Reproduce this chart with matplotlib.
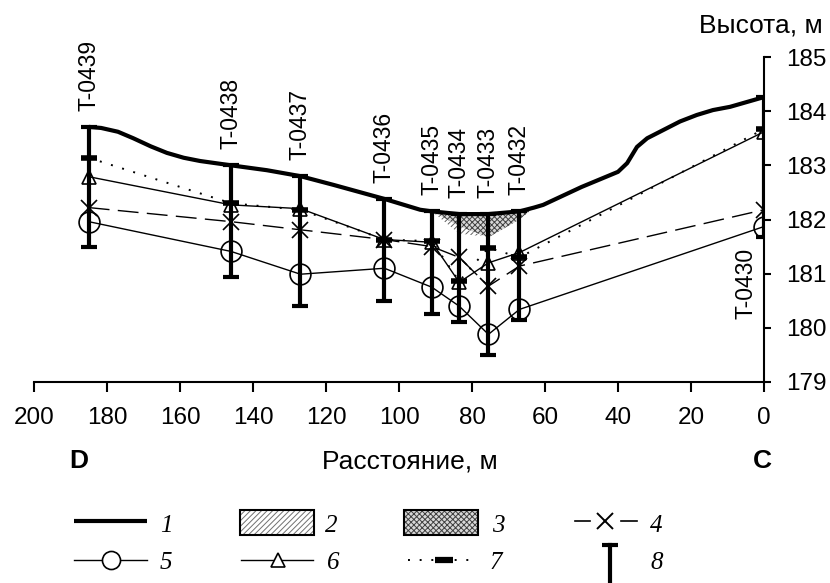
import matplotlib
matplotlib.use('Agg')
import matplotlib.pyplot as plt
from matplotlib.patches import Rectangle
from matplotlib.lines import Line2D

plt.rcParams['font.family'] = ['Liberation Sans', 'DejaVu Sans']
plt.rcParams['hatch.linewidth'] = 0.7

# ---------------- data ----------------
# ground surface profile (line 1)
surf_dist = [185, 181.6, 177, 172.8, 168, 163.6, 159, 154.5, 146, 136.2, 127, 118, 104, 94.2, 91,
             83.5, 75.5, 67, 63, 60.5, 50, 40, 37.5, 34.8, 32, 23, 18.4, 14, 9.3, 0]
surf_elev = [183.71, 183.69, 183.62, 183.50, 183.35, 183.23, 183.14, 183.08, 183.00, 182.91, 182.80,
             182.64, 182.38, 182.18, 182.15, 182.10, 182.10, 182.15, 182.22, 182.27, 182.60, 182.88,
             183.04, 183.34, 183.50, 183.81, 183.93, 184.02, 184.08, 184.26]

# boreholes
well_names = ['T-0439', 'T-0438', 'T-0437', 'T-0436', 'T-0435', 'T-0434', 'T-0433', 'T-0432', 'T-0430']
well_dist = [185, 146, 127, 104, 91, 83.5, 75.5, 67, 0]
well_top = [183.71, 183.00, 182.80, 182.38, 182.15, 182.10, 182.10, 182.15, 184.26]
well_bottom = [181.50, 180.93, 180.40, 180.49, 180.25, 180.10, 179.50, 180.15, 181.68]

# series 4..7
s4 = [182.22, 181.96, 181.81, 181.63, 181.50, 181.30, 180.77, 181.14, 182.18]
s5 = [181.96, 181.41, 180.99, 181.10, 180.75, 180.40, 179.88, 180.34, 181.87]
s6 = [182.79, 182.27, 182.20, 181.63, 181.58, 180.84, 181.20, 181.39, 183.62]
s7 = [183.14, 182.30, 182.18, 181.63, 181.60, 180.86, 181.48, 181.30, 183.67]

# zones 2 and 3
z3_dist = [91, 83.5, 75.5, 67, 63]
z3_top = [182.15, 182.10, 182.10, 182.15, 182.22]
z3_bottom = [182.15, 181.87, 181.67, 182.00, 182.22]
z2_dist = [91, 83.5, 77]
z2_top = [182.15, 181.87, 181.69]
z2_bottom = [182.15, 181.74, 181.69]

x_ticks = [200, 180, 160, 140, 120, 100, 80, 60, 40, 20, 0]
y_ticks = [179, 180, 181, 182, 183, 184, 185]

# ---------------- figure ----------------
W, H = 830, 583
fig = plt.figure(figsize=(W / 100, H / 100), dpi=100)
ax = fig.add_axes([34 / W, 1 - 382 / H, (764 - 34) / W, (382 - 57) / H])
ax.set_xlim(200, 0)
ax.set_ylim(179, 185)

ax.fill_between(z3_dist, z3_bottom, z3_top, facecolor='#d8d8d8', edgecolor='#404040',
                hatch='xxxxxx', linewidth=0, zorder=1)
ax.fill_between(z2_dist, z2_bottom, z2_top, facecolor='white', edgecolor='#606060',
                hatch='//////', linewidth=0, zorder=1)

ax.plot(well_dist, s4, color='black', lw=1.0, dashes=(15, 6), marker='x', ms=12, mew=1.2, zorder=3)
ax.plot(well_dist, s5, color='black', lw=1.0, marker='o', ms=15, mfc='none', mew=1.2, zorder=3)
ax.plot(well_dist, s6, color='black', lw=1.0, marker='^', ms=10, mfc='none', mew=1.2, zorder=3)
ax.plot(well_dist, s7, color='black', lw=1.4, dashes=(1, 5), marker='_', ms=12, mew=4, zorder=3)

mid = [(t + b) / 2 for t, b in zip(well_top, well_bottom)]
half = [(t - b) / 2 for t, b in zip(well_top, well_bottom)]
ax.errorbar(well_dist, mid, yerr=half, fmt='none', ecolor='black', elinewidth=3,
            capsize=5.5, capthick=3, zorder=4)

ax.plot(surf_dist, surf_elev, color='black', lw=3, solid_capstyle='butt', zorder=5)

for name, d, t in zip(well_names[:-1], well_dist[:-1], well_top[:-1]):
    ax.text(d, t + 0.3, name, rotation=90, ha='center', va='bottom', fontsize=16.5)
ax.text(5, 180.16, well_names[-1], rotation=90, ha='center', va='bottom', fontsize=16.5)

for s in ['left', 'top']:
    ax.spines[s].set_visible(False)
for s in ['right', 'bottom']:
    ax.spines[s].set_linewidth(1.5)
ax.yaxis.tick_right()
ax.set_xticks(x_ticks)
ax.set_yticks(y_ticks)
ax.tick_params(axis='x', direction='out', length=7, width=1.5, pad=11, labelsize=17.5)
ax.tick_params(axis='y', direction='out', length=5, width=1.5, pad=11, labelsize=17.5)
ax.patch.set_alpha(0)

fig.text(823 / W, 1 - 33 / H, 'Высота, м', ha='right', va='baseline', fontsize=19)
fig.text(410 / W, 1 - 468 / H, 'Расстояние, м', ha='center', va='baseline', fontsize=19)
fig.text(79 / W, 1 - 468 / H, 'D', ha='center', va='baseline', fontsize=19, fontweight='bold')
fig.text(762 / W, 1 - 468 / H, 'C', ha='center', va='baseline', fontsize=19, fontweight='bold')

# ---------------- legend ----------------
lax = fig.add_axes([0, 0, 1, 1])
lax.set_xlim(0, W)
lax.set_ylim(H, 0)
lax.axis('off')
lax.patch.set_alpha(0)

r1, r2 = 521, 560
lax.add_line(Line2D([74, 147], [r1, r1], color='black', lw=3, solid_capstyle='butt'))
lax.add_patch(Rectangle((240, 510), 74, 25, facecolor='white', edgecolor='#707070', hatch='//////', lw=0))
lax.add_patch(Rectangle((240, 510), 74, 25, facecolor='none', edgecolor='black', lw=1.5))
lax.add_patch(Rectangle((404, 510), 74, 25, facecolor='#d8d8d8', edgecolor='#404040', hatch='xxxxxx', lw=0))
lax.add_patch(Rectangle((404, 510), 74, 25, facecolor='none', edgecolor='black', lw=1.5))
lax.add_line(Line2D([575, 590], [r1, r1], color='black', lw=1.2))
lax.add_line(Line2D([621, 637], [r1, r1], color='black', lw=1.2))
lax.add_line(Line2D([605], [r1], color='black', marker='x', ms=11, mew=1.4, lw=0))

lax.add_line(Line2D([74, 147], [r2, r2], color='black', lw=1.0))
lax.add_line(Line2D([111], [r2], color='black', marker='o', ms=13, mfc='white', mew=1.2, lw=0))
lax.add_line(Line2D([241, 313], [r2, r2], color='black', lw=1.0))
lax.add_line(Line2D([278], [r2], color='black', marker='^', ms=10, mfc='white', mew=1.2, lw=0))
lax.add_line(Line2D([408, 477], [r2, r2], color='black', lw=1.4, dashes=(1, 5)))
lax.add_line(Line2D([444], [r2], color='black', marker='_', ms=13, mew=4.5, lw=0))
lax.add_line(Line2D([610, 610], [545, 600], color='black', lw=3))
lax.add_line(Line2D([610], [545], color='black', marker='_', ms=11, mew=3, lw=0))

leg_font = dict(family=['Liberation Serif', 'DejaVu Serif'], style='italic', fontsize=18, va='baseline')
for lbl, x, y in [('1', 160, 532), ('2', 325, 532), ('3', 492, 532), ('4', 650, 532),
                  ('5', 160, 569), ('6', 327, 569), ('7', 490, 569), ('8', 650, 569)]:
    lax.text(x, y, lbl, ha='left', **leg_font)

fig.savefig('out.png', dpi=100)
